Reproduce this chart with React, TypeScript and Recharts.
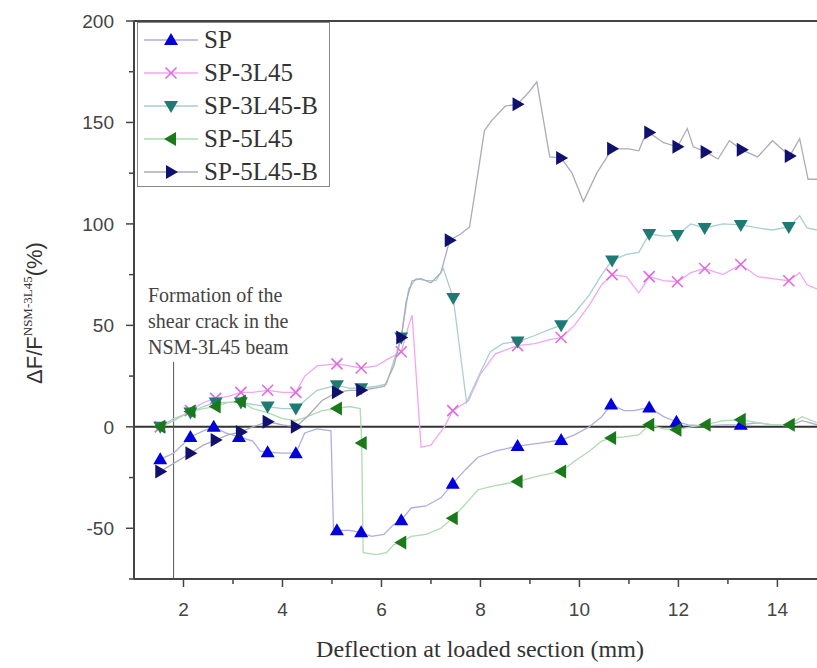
import { ComposedChart, Line, Scatter, XAxis, YAxis, ReferenceLine, Legend } from 'recharts';

type Pt = [number, number];

// SP
const spCurve: Pt[] = [
  [1.53, -16], [1.8, -13], [2.14, -5], [2.4, -2], [2.61, 0], [2.85, -3], [3.12, -5], [3.4, -7],
  [3.55, -12], [3.7, -12.5], [4.0, -13], [4.27, -13], [4.45, -3], [4.7, -1], [4.98, -2], [5.03, -50],
  [5.1, -51], [5.35, -51], [5.59, -52], [5.8, -54], [6.05, -53], [6.25, -48], [6.4, -46], [6.6, -40],
  [6.9, -39], [7.2, -35], [7.44, -28], [7.7, -21], [7.95, -15], [8.3, -12], [8.75, -9.5], [9.2, -8],
  [9.63, -6.5], [9.9, -4], [10.2, 0], [10.45, 5], [10.64, 11], [10.9, 8], [11.1, 8], [11.41, 9.5],
  [11.7, 5], [11.96, 2.5], [12.2, 1], [12.55, 0.5], [12.9, 1], [13.26, 1], [13.6, 2], [13.9, 1],
  [14.25, 0.5], [14.5, 3], [14.8, 1],
];
const spMarks: Pt[] = [
  [1.53, -16], [2.14, -5], [2.61, 0], [3.12, -5], [3.7, -12.5], [4.27, -13], [5.1, -51], [5.59, -52],
  [6.4, -46], [7.44, -28], [8.75, -9.5], [9.63, -6.5], [10.64, 11], [11.41, 9.5], [11.96, 2.5], [13.26, 1],
];

// SP-3L45
const sp3Curve: Pt[] = [
  [1.53, 0], [1.8, 3], [2.14, 8], [2.4, 12], [2.65, 14], [2.9, 15], [3.16, 17], [3.4, 17], [3.7, 18],
  [4.0, 17], [4.27, 17], [4.45, 25], [4.7, 30], [5.1, 31], [5.35, 30], [5.59, 29], [5.9, 30], [6.1, 33],
  [6.4, 37], [6.55, 50], [6.62, 55], [6.8, -10], [7.0, -9], [7.27, 0], [7.44, 8], [7.76, 13], [8.0, 26],
  [8.3, 36], [8.75, 40], [9.1, 41], [9.4, 43], [9.63, 44], [9.9, 50], [10.2, 60], [10.45, 70],
  [10.66, 75], [10.95, 74], [11.2, 66], [11.41, 74], [11.7, 72], [11.98, 71.5], [12.25, 76], [12.53, 78],
  [12.9, 75], [13.26, 80], [13.6, 74], [13.9, 73], [14.23, 72], [14.45, 76], [14.6, 70], [14.8, 68],
];
const sp3Marks: Pt[] = [
  [1.53, 0], [2.14, 8], [2.65, 14], [3.16, 17], [3.7, 18], [4.27, 17], [5.1, 31], [5.59, 29], [6.4, 37],
  [7.44, 8], [8.75, 40], [9.63, 44], [10.66, 75], [11.41, 74], [11.98, 71.5], [12.53, 78], [13.26, 80],
  [14.23, 72],
];

// SP-3L45-B
const sp3bCurve: Pt[] = [
  [1.53, 0], [1.8, 4], [2.14, 7], [2.4, 10], [2.65, 12], [2.9, 12], [3.16, 12], [3.4, 11], [3.7, 10],
  [4.0, 9], [4.27, 9], [4.5, 14], [4.7, 18], [5.1, 20.5], [5.35, 19], [5.59, 19], [5.9, 20], [6.1, 21],
  [6.4, 44], [6.55, 68], [6.7, 73], [6.9, 72], [7.1, 72], [7.25, 78], [7.45, 63.5], [7.72, 12],
  [8.0, 27], [8.2, 37], [8.45, 41], [8.75, 42], [9.1, 45], [9.4, 48], [9.63, 50], [9.9, 56], [10.2, 65],
  [10.45, 75], [10.66, 82], [10.95, 85], [11.2, 86], [11.41, 95], [11.7, 94], [11.98, 94.5],
  [12.25, 100], [12.53, 98], [12.9, 100], [13.26, 99.5], [13.6, 98], [13.9, 97], [14.23, 98.5],
  [14.45, 104], [14.6, 98], [14.8, 97],
];
const sp3bMarks: Pt[] = [
  [1.53, 0], [2.14, 7], [2.65, 12], [3.16, 12], [3.7, 10], [4.27, 9], [5.1, 20.5], [5.59, 19],
  [6.4, 44], [7.45, 63.5], [8.75, 42], [9.63, 50], [10.66, 82], [11.41, 95], [11.98, 94.5],
  [12.53, 98], [13.26, 99.5], [14.23, 98.5],
];

// SP-5L45
const sp5Curve: Pt[] = [
  [1.53, 0], [1.8, 3], [2.14, 7.5], [2.4, 9], [2.65, 10], [2.9, 12], [3.16, 12.5], [3.4, 9], [3.7, 7],
  [4.0, 4], [4.27, 3], [4.5, 5], [4.8, 8], [5.1, 9], [5.35, 10], [5.57, 9], [5.6, -8], [5.63, -62],
  [5.9, -63], [6.1, -62], [6.25, -58], [6.4, -57], [6.6, -54], [6.9, -53], [7.2, -50], [7.44, -45],
  [7.7, -38], [7.95, -31], [8.3, -29], [8.75, -27], [9.2, -24], [9.63, -22], [9.9, -17], [10.2, -12],
  [10.45, -7], [10.64, -5.5], [10.9, -5], [11.2, -4], [11.41, 1], [11.7, -1], [11.96, -1.5],
  [12.25, 0], [12.55, 1], [12.9, 3], [13.26, 3.5], [13.6, 2], [13.9, 1], [14.25, 1], [14.5, 5],
  [14.8, 2],
];
const sp5Marks: Pt[] = [
  [1.53, 0], [2.14, 7.5], [2.65, 10], [3.16, 12.5], [5.1, 9], [5.6, -8], [6.4, -57], [7.44, -45],
  [8.75, -27], [9.63, -22], [10.64, -5.5], [11.41, 1], [11.96, -1.5], [12.55, 1], [13.26, 3.5],
  [14.25, 1],
];

// SP-5L45-B
const sp5bCurve: Pt[] = [
  [1.53, -22], [1.8, -18], [2.14, -13], [2.4, -9], [2.65, -6.5], [2.9, -4], [3.16, -2.5], [3.4, 0],
  [3.7, 2.5], [4.0, 1], [4.27, 0], [4.5, 5], [4.8, 13], [5.1, 17], [5.35, 18], [5.59, 18], [5.85, 19],
  [6.06, 20], [6.25, 30], [6.4, 44], [6.5, 62], [6.62, 72], [6.8, 73], [7.0, 71], [7.2, 76],
  [7.38, 92], [7.6, 95], [7.78, 98.5], [7.95, 125], [8.08, 146], [8.23, 151], [8.5, 158], [8.75, 159],
  [8.98, 165], [9.14, 170], [9.4, 133], [9.63, 132.5], [9.85, 125], [10.08, 111], [10.35, 125],
  [10.66, 137], [11.0, 137], [11.2, 136], [11.3, 142], [11.41, 145], [11.7, 140], [11.98, 138],
  [12.18, 147], [12.3, 138], [12.55, 135.5], [12.8, 132], [13.03, 141], [13.28, 136.5], [13.6, 133],
  [13.9, 141], [14.25, 133.5], [14.45, 142], [14.62, 122], [14.8, 122],
];
const sp5bMarks: Pt[] = [
  [1.53, -22], [2.14, -13], [2.65, -6.5], [3.16, -2.5], [3.7, 2.5], [4.27, 0], [5.1, 17], [5.59, 18],
  [6.4, 44], [7.38, 92], [8.75, 159], [9.63, 132.5], [10.66, 137], [11.41, 145], [11.98, 138],
  [12.55, 135.5], [13.28, 136.5], [14.25, 133.5],
];

const xTicks = [2, 3, 4, 5, 6, 7, 8, 9, 10, 11, 12, 13, 14];
const yTicks = [-75, -50, -25, 0, 25, 50, 75, 100, 125, 150, 175, 200];
const noteLines = ['Formation of the', 'shear crack in the', 'NSM-3L45 beam'];

type Kind = 'up' | 'x' | 'down' | 'left' | 'right';

const series: { name: string; curve: Pt[]; marks: Pt[]; line: string; color: string; kind: Kind }[] = [
  { name: 'SP', curve: spCurve, marks: spMarks, line: '#aeaede', color: '#0000dd', kind: 'up' },
  { name: 'SP-3L45', curve: sp3Curve, marks: sp3Marks, line: '#f2a6f2', color: '#e06ae0', kind: 'x' },
  { name: 'SP-3L45-B', curve: sp3bCurve, marks: sp3bMarks, line: '#a9cfcf', color: '#1f7a74', kind: 'down' },
  { name: 'SP-5L45', curve: sp5Curve, marks: sp5Marks, line: '#addcad', color: '#1a7a1a', kind: 'left' },
  { name: 'SP-5L45-B', curve: sp5bCurve, marks: sp5bMarks, line: '#ababbb', color: '#10106e', kind: 'right' },
];

const toPts = (arr: Pt[]) => arr.map(([x, y]) => ({ x, y }));

function Marker({ kind, cx, cy, color }: { kind: Kind; cx: number; cy: number; color: string }) {
  const s = 7;
  if (kind === 'x') {
    return (
      <g stroke={color} strokeWidth={1.6}>
        <line x1={cx - 5.5} y1={cy - 5.5} x2={cx + 5.5} y2={cy + 5.5} />
        <line x1={cx - 5.5} y1={cy + 5.5} x2={cx + 5.5} y2={cy - 5.5} />
      </g>
    );
  }
  let pts = '';
  if (kind === 'up') pts = `${cx},${cy - s} ${cx + s},${cy + 5} ${cx - s},${cy + 5}`;
  if (kind === 'down') pts = `${cx},${cy + s} ${cx + s},${cy - 5} ${cx - s},${cy - 5}`;
  if (kind === 'left') pts = `${cx - s},${cy} ${cx + 5},${cy - s} ${cx + 5},${cy + s}`;
  if (kind === 'right') pts = `${cx + s},${cy} ${cx - 5},${cy - s} ${cx - 5},${cy + s}`;
  return <polygon points={pts} fill={color} />;
}

const AXIS = '#444';

const XTick = (props: any) => {
  const { x, payload } = props;
  const major = payload.value % 2 === 0;
  return (
    <g>
      <line x1={x} x2={x} y1={579} y2={579 + (major ? 8 : 5)} stroke={AXIS} strokeWidth={1.5} />
      {major && (
        <text x={x} y={616} textAnchor="middle" fontSize={19} fill="#444" fontFamily="Liberation Sans">
          {payload.value}
        </text>
      )}
    </g>
  );
};

const YTick = (props: any) => {
  const { y, payload } = props;
  const major = payload.value % 50 === 0;
  return (
    <g>
      <line x1={134} x2={134 - (major ? 8 : 5)} y1={y} y2={y} stroke={AXIS} strokeWidth={1.5} />
      {major && (
        <text x={114} y={y + 7} textAnchor="end" fontSize={19} fill="#444" fontFamily="Liberation Sans">
          {payload.value}
        </text>
      )}
    </g>
  );
};

const LegendBox = () => (
  <div
    style={{
      width: 193,
      height: 165,
      boxSizing: 'border-box',
      border: '1.5px solid #888',
      background: '#fff',
    }}
  >
    {series.map((s) => (
      <div key={s.name} style={{ height: 33, display: 'flex', alignItems: 'center' }}>
        <svg width={66} height={20} style={{ flex: 'none' }}>
          <line x1={6} x2={60} y1={10} y2={10} stroke={s.line} strokeWidth={1.3} />
          <Marker kind={s.kind} cx={33} cy={10} color={s.color} />
        </svg>
        <span style={{ fontFamily: 'Liberation Serif', fontSize: 25, color: '#333', lineHeight: '25px' }}>{s.name}</span>
      </div>
    ))}
  </div>
);

const YLabel = () => (
  <text
    x={42}
    y={313}
    transform="rotate(-90, 42, 313)"
    textAnchor="middle"
    fontFamily="Liberation Sans"
    fontSize={22}
    fill="#333"
  >
    ΔF/F
    <tspan fontFamily="Liberation Serif" fontSize={13} dy={-10}>NSM-3L45</tspan>
    <tspan dy={10}>(%)</tspan>
  </text>
);

const XLabel = () => (
  <text x={480} y={657} textAnchor="middle" fontFamily="Liberation Serif" fontSize={24} fill="#333">
    Deflection at loaded section (mm)
  </text>
);

export default function App() {
  return (
    <div style={{ position: 'fixed', left: 0, top: 0, width: 817, height: 668, background: '#fff' }}>
      <ComposedChart width={817} height={668} margin={{ top: 21, right: 0, bottom: 0, left: 0 }}>
        <XAxis
          type="number"
          dataKey="x"
          domain={[1, 14.8]}
          ticks={xTicks}
          allowDataOverflow
          height={89}
          axisLine={{ stroke: AXIS, strokeWidth: 2 }}
          tickLine={false}
          tick={<XTick />}
          label={<XLabel />}
        />
        <YAxis
          type="number"
          dataKey="y"
          domain={[-75, 200]}
          ticks={yTicks}
          allowDataOverflow
          width={134}
          axisLine={{ stroke: AXIS, strokeWidth: 2 }}
          tickLine={false}
          tick={<YTick />}
          label={<YLabel />}
        />
        <ReferenceLine y={200} stroke={AXIS} strokeWidth={2} />
        <ReferenceLine y={0} stroke="#333" strokeWidth={2} />
        <ReferenceLine
          segment={[
            { x: 1.8, y: 32 },
            { x: 1.8, y: -75 },
          ]}
          stroke="#555"
          strokeWidth={1}
          label={() => (
            <g>
              {noteLines.map((t, i) => (
                <text key={t} x={148} y={302 + i * 26} fontFamily="Liberation Serif" fontSize={20} fill="#444">
                  {t}
                </text>
              ))}
            </g>
          )}
        />
        {series.map((s) => (
          <Line
            key={s.name + '-line'}
            data={toPts(s.curve)}
            dataKey="y"
            type="linear"
            stroke={s.line}
            strokeWidth={1.3}
            dot={false}
            activeDot={false}
            legendType="none"
            isAnimationActive={false}
          />
        ))}
        {series.map((s) => (
          <Scatter
            key={s.name + '-marks'}
            name={s.name}
            data={toPts(s.marks)}
            fill={s.color}
            shape={(p: any) => <Marker kind={s.kind} cx={p.cx} cy={p.cy} color={s.color} />}
            isAnimationActive={false}
          />
        ))}
        <Legend
          layout="vertical"
          align="center"
          verticalAlign="middle"
          content={<LegendBox />}
          wrapperStyle={{ left: 137, top: 22, width: 193, height: 165 }}
        />
      </ComposedChart>
    </div>
  );
}
